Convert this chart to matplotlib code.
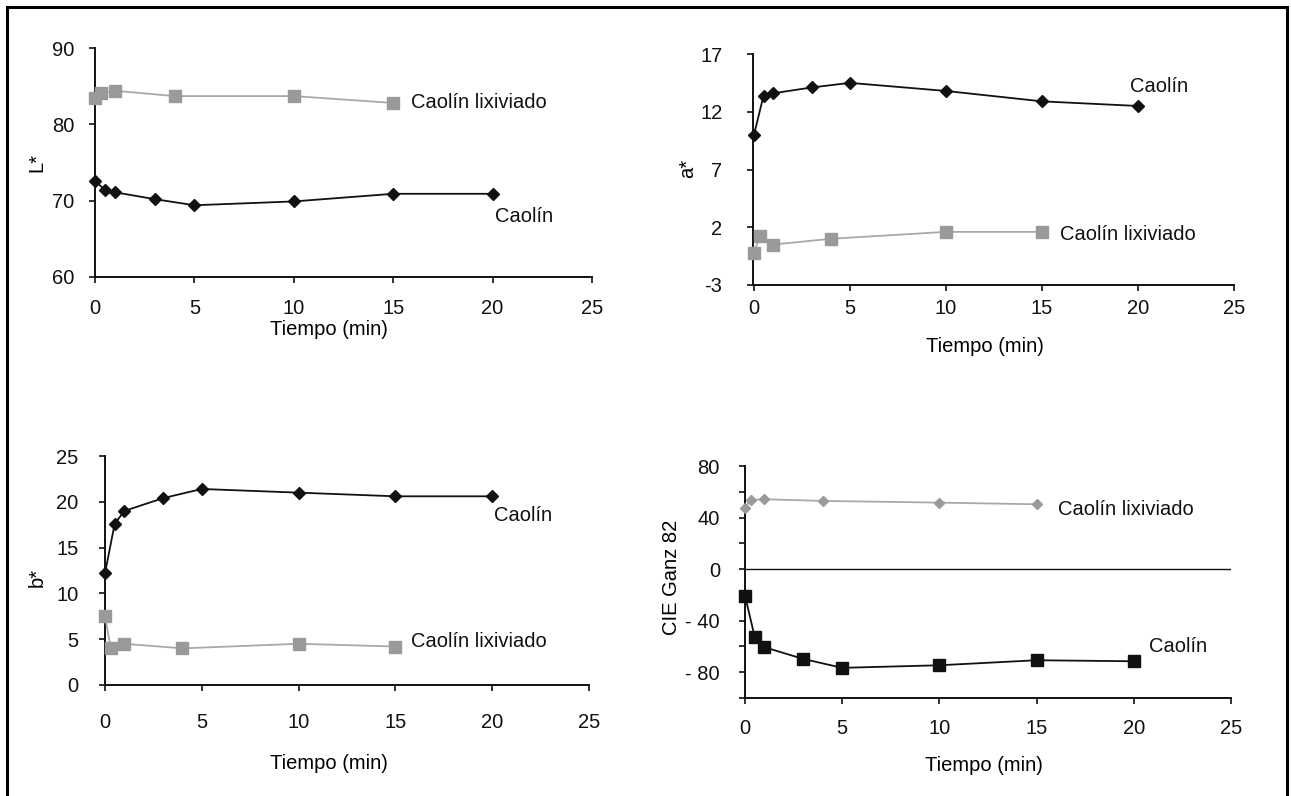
import numpy as np
import matplotlib
matplotlib.use('Agg')
import matplotlib.pyplot as plt
from matplotlib.patches import Rectangle

plt.rcParams['font.family'] = ['Liberation Sans', 'DejaVu Sans']

# tiempos (min)
t_caolin = [0, 0.5, 1, 3, 5, 10, 15, 20]
t_lix = [0, 0.3, 1, 4, 10, 15]

# L*
L_caolin = [72.6, 71.4, 71.1, 70.2, 69.4, 69.9, 70.9, 70.9]
L_lix = [83.4, 84.1, 84.4, 83.7, 83.7, 82.8]

# a*
a_caolin = [10.0, 13.4, 13.6, 14.1, 14.5, 13.8, 12.9, 12.5]
a_lix = [-0.2, 1.2, 0.5, 1.0, 1.6, 1.6]

# b*
b_caolin = [12.2, 17.6, 19.0, 20.4, 21.4, 21.0, 20.6, 20.6]
b_lix = [7.5, 4.0, 4.5, 4.0, 4.5, 4.2]

# CIE Ganz 82
w_caolin = [-20.6, -52.6, -60.6, -69.7, -76.6, -74.6, -70.7, -71.5]
w_lix = [47.7, 53.7, 54.2, 52.9, 51.6, 50.3]

x_ticks = [0, 5, 10, 15, 20, 25]
FS = 14.5
BLACK = '#111111'
GRAY = '#9a9a9a'
LGRAY = '#a8a8a8'

fig = plt.figure(figsize=(12.91, 7.96), dpi=100)

# marco exterior
fig.patches.append(Rectangle((7 / 1291, -0.02), 1280 / 1291, 1.02 - 7 / 796,
                             transform=fig.transFigure, fill=False,
                             edgecolor='black', lw=2.2, clip_on=False))


def style_axis(ax, xlim, ylim, yticks, ylabels, xpad, ypad):
    ax.set_xlim(*xlim)
    ax.set_ylim(*ylim)
    ax.set_xticks(x_ticks)
    ax.set_xticklabels([str(v) for v in x_ticks])
    ax.set_yticks(yticks)
    ax.set_yticklabels(ylabels)
    for s in ['top', 'right']:
        ax.spines[s].set_visible(False)
    for s in ['left', 'bottom']:
        ax.spines[s].set_linewidth(1.4)
        ax.spines[s].set_color(BLACK)
    ax.tick_params(axis='x', direction='out', length=4, width=1.2,
                   labelsize=FS, pad=xpad, colors=BLACK)
    ax.tick_params(axis='y', direction='out', length=4, width=1.2,
                   labelsize=FS, pad=ypad, colors=BLACK)


def labels(ax, ylab, ycoords, xcoords):
    ax.set_xlabel('Tiempo (min)', fontsize=FS, va='center')
    ax.xaxis.set_label_coords(*xcoords)
    ax.set_ylabel(ylab, fontsize=FS, va='center')
    ax.yaxis.set_label_coords(*ycoords)


# ---- L* ----
ax1 = fig.add_axes([95 / 1291, 1 - 277 / 796, 497 / 1291, 229 / 796])
ax1.plot(t_lix, L_lix, color=LGRAY, lw=1.3, marker='s', ms=9,
         mfc=GRAY, mec=GRAY, clip_on=False, zorder=3)
ax1.plot(t_caolin, L_caolin, color=BLACK, lw=1.3, marker='D', ms=6.3,
         mfc=BLACK, mec=BLACK, clip_on=False, zorder=3)
style_axis(ax1, (0, 25), (60, 90), [60, 70, 80, 90],
           ['60', '70', '80', '90'], 12, 11)
labels(ax1, 'L*', (-0.117, 0.5), (0.471, -0.231))
ax1.text(15.9, 82.8, 'Caolín lixiviado', fontsize=FS, va='center', color=BLACK)
ax1.text(20.1, 67.9, 'Caolín', fontsize=FS, va='center', color=BLACK)

# ---- a* ----
ax2 = fig.add_axes([753 / 1291, 1 - 285 / 796, 481 / 1291, 231 / 796])
ax2.plot(t_lix, a_lix, color=LGRAY, lw=1.3, marker='s', ms=9,
         mfc=GRAY, mec=GRAY, clip_on=False, zorder=3)
ax2.plot(t_caolin, a_caolin, color=BLACK, lw=1.3, marker='D', ms=6.0,
         mfc=BLACK, mec=BLACK, clip_on=False, zorder=3)
style_axis(ax2, (-0.05, 25), (-3, 17), [-3, 2, 7, 12, 17],
           ['-3', '2', '7', '12', '17'], 6, 18)
labels(ax2, 'a*', (-0.135, 0.506), (0.482, -0.268))
ax2.text(15.96, 1.33, 'Caolín lixiviado', fontsize=FS, va='center', color=BLACK)
ax2.text(19.6, 14.2, 'Caolín', fontsize=FS, va='center', color=BLACK)

# ---- b* ----
ax3 = fig.add_axes([105 / 1291, 1 - 685 / 796, 484 / 1291, 229 / 796])
ax3.plot(t_lix, b_lix, color=LGRAY, lw=1.3, marker='s', ms=9,
         mfc=GRAY, mec=GRAY, clip_on=False, zorder=3)
ax3.plot(t_caolin, b_caolin, color=BLACK, lw=1.3, marker='D', ms=6.3,
         mfc=BLACK, mec=BLACK, clip_on=False, zorder=3)
style_axis(ax3, (0, 25), (0, 25), [0, 5, 10, 15, 20, 25],
           ['0', '5', '10', '15', '20', '25'], 16, 15)
labels(ax3, 'b*', (-0.140, 0.47), (0.463, -0.341))
ax3.text(15.8, 4.7, 'Caolín lixiviado', fontsize=FS, va='center', color=BLACK)
ax3.text(20.1, 18.5, 'Caolín', fontsize=FS, va='center', color=BLACK)

# ---- CIE Ganz 82 ----
ax4 = fig.add_axes([745 / 1291, 1 - 698 / 796, 486 / 1291, 232 / 796])
ax4.axhline(0, color=BLACK, lw=1.0, zorder=1)
ax4.plot(t_lix, w_lix, color=LGRAY, lw=1.3, marker='D', ms=5.5,
         mfc=GRAY, mec=GRAY, clip_on=False, zorder=3)
ax4.plot(t_caolin, w_caolin, color=BLACK, lw=1.3, marker='s', ms=9,
         mfc=BLACK, mec=BLACK, clip_on=False, zorder=3)
g_ticks = list(range(-100, 81, 20))
g_labels = [('- ' + str(abs(v)) if v < 0 else str(v)) if v % 40 == 0 else ''
            for v in g_ticks]
style_axis(ax4, (0, 25), (-100, 80), g_ticks, g_labels, 11, 14)
labels(ax4, 'CIE Ganz 82', (-0.152, 0.52), (0.492, -0.289))
ax4.text(16.1, 45.9, 'Caolín lixiviado', fontsize=FS, va='center', color=BLACK)
ax4.text(20.8, -60.2, 'Caolín', fontsize=FS, va='center', color=BLACK)

fig.savefig('out.png', dpi=100)
